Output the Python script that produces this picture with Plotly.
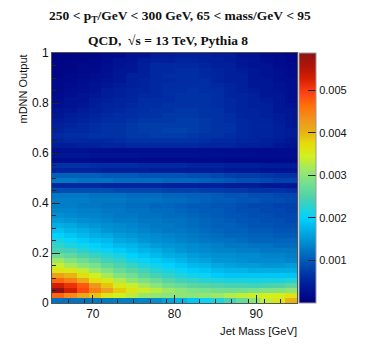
import plotly.graph_objects as go

mass_edges = [65 + 1.5 * i for i in range(21)]
dnn_edges = [0.02 * i for i in range(51)]

# bin contents in units of 1e-5, bottom row first
rows = [
    [120,120,120,125,125,130,130,135,145,160,175,190,205,220,245,270,300,335,360,400],
    [470,440,410,390,360,345,330,310,305,300,300,300,305,315,325,335,340,345,350,365],
    [585,530,490,450,420,385,360,340,330,315,300,290,285,280,280,280,285,290,295,300],
    [530,510,480,430,390,355,340,320,300,280,270,260,255,250,245,245,240,245,250,260],
    [470,450,410,370,355,325,300,285,270,255,240,235,225,220,215,215,215,215,215,220],
    [420,400,370,345,320,295,280,260,245,230,220,210,205,195,190,190,190,190,190,190],
    [360,355,335,310,290,270,255,240,225,215,205,195,190,180,175,175,170,170,170,170],
    [340,320,300,285,265,250,235,220,210,200,190,180,175,165,160,155,155,150,150,155],
    [310,290,275,260,240,230,215,205,195,185,175,165,160,150,150,145,140,140,140,135],
    [275,265,250,235,225,215,200,190,180,170,165,155,150,145,145,140,140,135,135,130],
    [245,240,225,215,205,195,185,175,170,160,150,145,140,135,135,130,130,125,125,125],
    [230,220,210,200,190,180,175,165,155,150,145,140,135,130,125,125,120,120,115,115],
    [215,205,195,185,180,165,160,150,145,140,135,130,125,120,120,115,110,110,110,110],
    [200,190,180,170,165,155,150,145,140,135,130,125,120,115,110,110,105,105,100,100],
    [185,175,170,160,150,145,140,135,130,125,125,120,115,110,105,105,100,100,95,95],
    [170,165,155,150,145,140,135,130,125,125,120,115,110,105,105,100,95,95,90,90],
    [155,150,145,140,135,130,130,125,125,120,120,115,110,105,100,95,95,90,90,85],
    [145,140,135,135,130,125,125,120,120,115,115,110,105,100,95,95,90,90,85,85],
    [135,135,130,130,125,125,120,120,115,115,110,105,100,100,95,90,90,85,85,80],
    [130,130,125,125,120,120,115,115,110,110,105,100,100,95,95,90,85,85,80,80],
    [130,130,130,125,125,125,120,120,120,115,115,110,105,100,100,95,95,90,90,85],
    [125,125,125,120,120,120,115,115,115,110,110,105,105,100,95,95,90,90,85,85],
    [90,90,90,90,90,85,85,85,85,80,80,80,75,75,70,70,65,65,65,60],
    [55,55,55,55,50,50,50,50,50,45,45,45,45,45,40,40,40,35,35,35],
    [125,125,120,120,120,115,115,115,115,110,110,110,105,100,95,90,90,85,80,80],
    [105,105,105,105,100,100,100,95,95,95,95,90,90,85,80,75,75,70,65,65],
    [50,50,50,50,45,45,45,45,40,40,40,40,40,40,35,35,35,30,30,30],
    [65,65,65,60,60,60,60,55,55,55,55,50,50,50,45,45,45,40,40,40],
    [22,22,22,20,20,20,20,18,18,18,18,18,18,18,15,15,15,15,15,15],
    [35,35,35,30,30,30,30,28,28,28,28,28,25,25,25,25,22,22,22,22],
    [28,28,28,25,25,25,25,25,25,25,25,25,25,22,22,22,20,20,20,20],
    [40,40,45,45,50,50,55,55,55,55,55,55,50,50,50,45,45,40,35,30],
    [50,55,55,55,55,60,65,65,65,65,65,65,60,55,55,50,50,45,40,35],
    [55,60,60,65,65,65,70,70,75,75,75,70,65,65,60,55,50,50,45,40],
    [50,55,55,60,65,65,70,75,75,80,80,75,70,65,65,55,50,50,45,40],
    [45,50,55,60,65,65,70,75,75,75,75,75,70,65,65,55,50,50,45,35],
    [40,45,50,55,60,60,65,70,70,70,75,75,70,65,60,55,50,50,40,35],
    [35,40,45,50,55,60,60,65,65,70,70,70,65,65,60,50,50,45,40,35],
    [30,35,40,45,50,55,60,60,65,65,70,70,65,65,55,50,50,45,35,35],
    [25,30,35,40,50,50,55,60,60,65,65,65,65,60,55,50,45,45,35,30],
    [22,30,30,40,45,50,50,60,60,60,65,65,65,60,55,50,45,40,35,25],
    [20,25,30,35,40,45,50,55,55,60,65,65,65,60,50,50,45,35,35,25],
    [18,22,25,30,40,45,50,50,55,60,60,65,60,60,50,45,40,35,30,25],
    [15,20,25,30,35,40,45,50,55,60,60,60,60,55,50,45,35,35,30,25],
    [15,15,22,25,30,35,45,50,55,55,60,60,60,50,45,45,35,35,25,25],
    [12,15,18,22,25,35,45,45,55,60,60,60,55,50,45,45,35,30,25,20],
    [10,12,15,18,25,35,35,45,55,55,60,60,55,50,45,40,35,30,25,20],
    [10,10,15,15,25,30,35,45,55,55,55,55,50,45,45,35,30,30,20,18],
    [8,10,10,15,20,30,30,40,45,45,50,50,45,45,40,35,30,25,20,15],
    [8,8,10,12,18,20,30,30,40,40,45,45,45,40,40,30,30,20,18,12],
]

# palette, value in units of 1e-5
palette_values = [0, 25, 55, 82, 100, 125, 150, 175, 200, 225, 250, 285, 315, 345, 375, 400, 430, 465, 495, 530, 555, 588]
palette_colors = [
    "#00007f", "#000f90", "#0028a0", "#0044ae", "#005ab8", "#0078c4", "#0096d6", "#00b4e8",
    "#00d2ff", "#28d2d2", "#50d2aa", "#78e18c", "#a0e864", "#d2f01e", "#e6dc0a", "#e6b414",
    "#f0961e", "#ff6e0a", "#ff4014", "#d21e00", "#b41408", "#8c1414",
]

z = [[v * 1e-5 for v in row] for row in rows]
scale = [[v / palette_values[-1], c] for v, c in zip(palette_values, palette_colors)]

fig = go.Figure()

fig.add_trace(go.Heatmap(
    x=mass_edges,
    y=dnn_edges,
    z=z,
    zmin=0,
    zmax=0.00588,
    colorscale=scale,
    colorbar=dict(
        thickness=17,
        thicknessmode="pixels",
        len=250,
        lenmode="pixels",
        x=1.008,
        xanchor="left",
        xpad=0,
        y=0,
        yanchor="bottom",
        ypad=0,
        tickmode="array",
        tickvals=[0.001, 0.002, 0.003, 0.004, 0.005],
        ticktext=["0.001", "0.002", "0.003", "0.004", "0.005"],
        ticks="inside",
        ticklen=8,
        tickcolor="#222222",
        tickfont=dict(family="Liberation Sans", size=11, color="#111111"),
        outlinecolor="#999999",
        outlinewidth=1,
    ),
))

# the page adds an 8px body margin, so the figure is 8px smaller than the window
fig.update_layout(
    width=366,
    height=347,
    margin=dict(l=44, r=77, t=45, b=52),
    paper_bgcolor="white",
    plot_bgcolor="white",
    showlegend=False,
    xaxis=dict(
        range=[65, 95],
        tickmode="array",
        tickvals=[70, 80, 90],
        ticks="inside",
        ticklen=8,
        tickcolor="#222222",
        minor=dict(dtick=2, tick0=65, ticks="inside", ticklen=4, tickcolor="#222222"),
        showgrid=False,
        zeroline=False,
        showline=True,
        linecolor="#555555",
        mirror=True,
        tickfont=dict(family="Liberation Sans", size=12, color="#111111"),
    ),
    yaxis=dict(
        range=[0, 1],
        tickmode="array",
        tickvals=[0, 0.2, 0.4, 0.6, 0.8, 1],
        ticktext=["0", "0.2", "0.4", "0.6", "0.8", "1"],
        ticks="inside",
        ticklen=8,
        tickcolor="#222222",
        minor=dict(dtick=0.05, ticks="inside", ticklen=4, tickcolor="#222222"),
        showgrid=False,
        zeroline=False,
        showline=True,
        linecolor="#555555",
        mirror=True,
        tickfont=dict(family="Liberation Sans", size=12, color="#111111"),
    ),
)

title_font = dict(family="Liberation Serif", size=13.5, color="#111111")

fig.add_annotation(
    text="<b>250 &lt; p<sub>T</sub>/GeV &lt; 300 GeV, 65 &lt; mass/GeV &lt; 95</b>",
    xref="paper", yref="paper", x=0.5, y=1.148, xshift=5,
    xanchor="center", yanchor="middle", showarrow=False, font=title_font,
)
fig.add_annotation(
    text="<b>QCD,  √s = 13 TeV, Pythia 8</b>",
    xref="paper", yref="paper", x=0.5, y=1.048, xshift=-7,
    xanchor="center", yanchor="middle", showarrow=False, font=title_font,
)
fig.add_annotation(
    text="mDNN Output",
    xref="paper", yref="paper", x=0, y=1, xshift=-30,
    xanchor="center", yanchor="top", textangle=-90, showarrow=False,
    font=dict(family="Liberation Sans", size=11, color="#111111"),
)
fig.add_annotation(
    text="Jet Mass [GeV]",
    xref="paper", yref="paper", x=1, xshift=2, y=0, yshift=-28,
    xanchor="right", yanchor="middle", showarrow=False,
    font=dict(family="Liberation Sans", size=11.3, color="#111111"),
)

fig.write_html("out.html")
